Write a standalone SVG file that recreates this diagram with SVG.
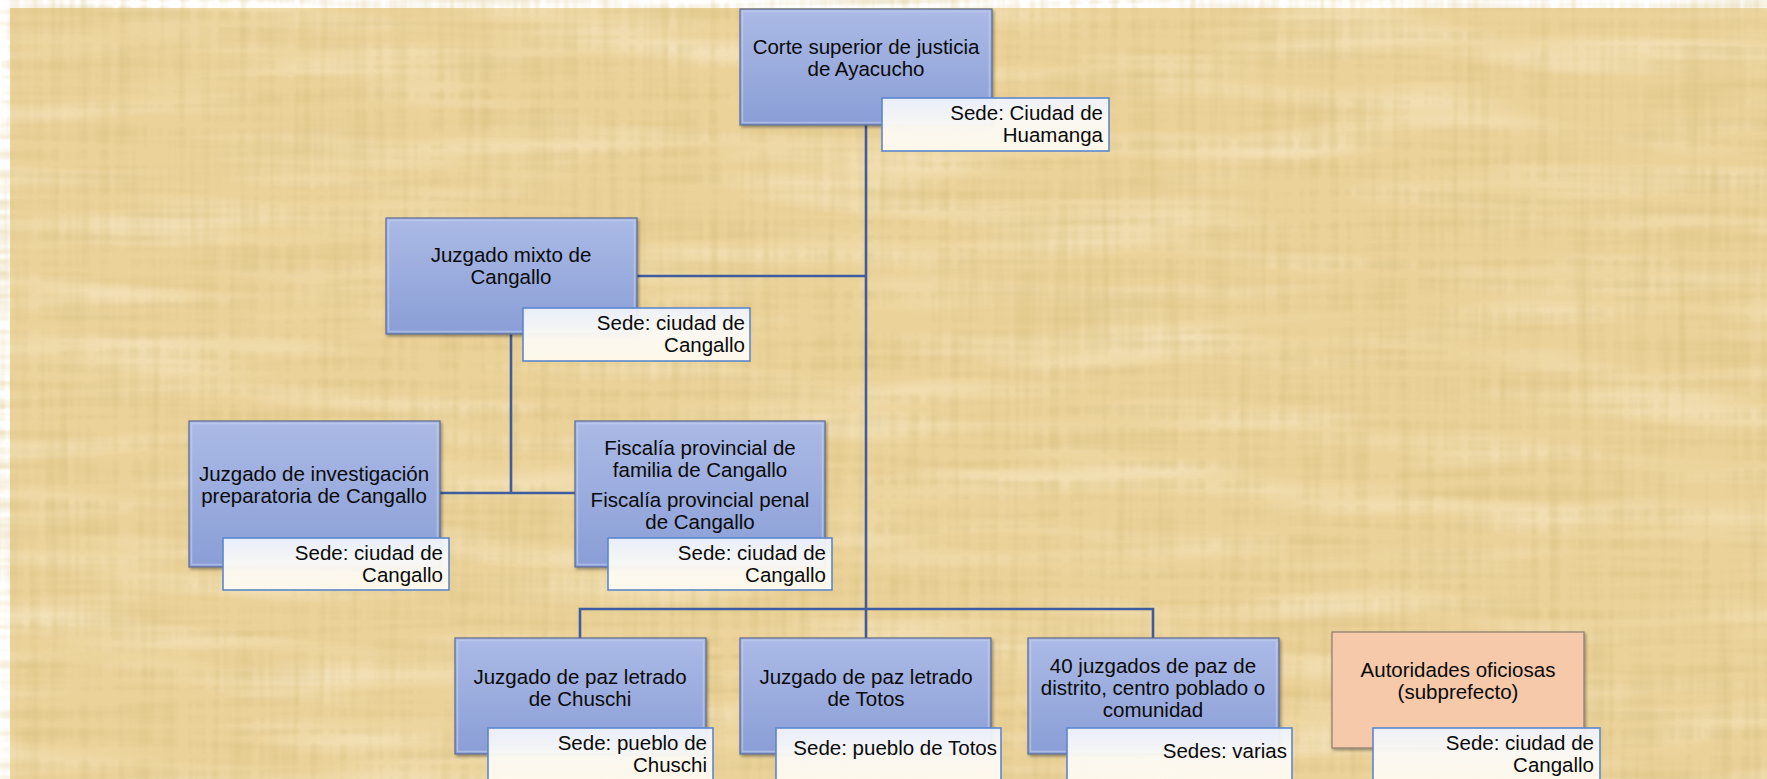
<svg xmlns="http://www.w3.org/2000/svg" width="1767" height="779" viewBox="0 0 1767 779">
<defs>
<linearGradient id="gBlue" x1="0" y1="0" x2="0" y2="1">
<stop offset="0" stop-color="#abbae6"/>
<stop offset="1" stop-color="#8a9ed6"/>
</linearGradient>
<linearGradient id="gSede" x1="0" y1="0" x2="0" y2="1">
<stop offset="0" stop-color="#eef2fb"/>
<stop offset="0.45" stop-color="#fbfaf6"/>
<stop offset="1" stop-color="#fffaee"/>
</linearGradient>
<filter id="pap" x="0" y="0" width="100%" height="100%" filterUnits="userSpaceOnUse">
<feTurbulence type="fractalNoise" baseFrequency="0.005 0.1" numOctaves="2" seed="3" result="h"/>
<feTurbulence type="fractalNoise" baseFrequency="0.1 0.005" numOctaves="2" seed="9" result="v"/>
<feComposite in="h" in2="v" operator="arithmetic" k2="0.5" k3="0.5" result="n"/>
<feColorMatrix in="n" type="matrix" values="0 0 0 0 0.68  0 0 0 0 0.53  0 0 0 0 0.22  3 0 0 0 -1.3"/>
</filter>
<filter id="pap2" x="0" y="0" width="100%" height="100%" filterUnits="userSpaceOnUse">
<feTurbulence type="fractalNoise" baseFrequency="0.004 0.03" numOctaves="2" seed="21" result="h"/>
<feColorMatrix in="h" type="matrix" values="0 0 0 0 1  0 0 0 0 0.95  0 0 0 0 0.82  -2 0 0 0 1.1"/>
</filter>
<filter id="sh" x="-5%" y="-5%" width="115%" height="120%">
<feDropShadow dx="1.5" dy="2" stdDeviation="1.5" flood-color="#000" flood-opacity="0.35"/>
</filter>
</defs>
<style>
.box{fill:url(#gBlue);stroke:#5d6b8c;stroke-width:1.2;filter:url(#sh)}
.inner{fill:none;stroke:#c4d0f0;stroke-width:1.5;opacity:0.6}
.orange{fill:#f5c9a9;stroke:#8a7c6e;stroke-width:1.2;filter:url(#sh)}
.sede{fill:url(#gSede);fill-opacity:0.95;stroke:#5a87cf;stroke-width:1.6}
.t{font-family:"Liberation Sans",Arial,sans-serif;font-size:20.5px;fill:#0a0a0a;text-anchor:middle}
.r{font-family:"Liberation Sans",Arial,sans-serif;font-size:20.5px;fill:#0a0a0a;text-anchor:end}
.conn{fill:none;stroke:#3d5da0;stroke-width:2.6}
</style>
<rect x="0" y="0" width="1767" height="779" fill="#ffffff"/>
<rect x="10" y="8" width="1757" height="771" fill="#ebd299"/>
<rect x="10" y="8" width="1757" height="771" filter="url(#pap2)" opacity="0.5"/>
<rect x="10" y="8" width="1757" height="771" filter="url(#pap)" opacity="0.55"/>

<g id="connectors">
<path class="conn" d="M866 125 V609"/>
<path class="conn" d="M637 276 H866"/>
<path class="conn" d="M511 334 V493"/>
<path class="conn" d="M440 493 H575"/>
<path class="conn" d="M580 638 V609 H1153 V638"/>
<path class="conn" d="M866 609 V638"/>
</g>

<g id="corte">
<rect class="box" x="740" y="9" width="252" height="116"/>
<rect class="inner" x="742.5" y="11.5" width="247" height="111"/>
<text class="t" x="866" y="54">Corte superior de justicia</text>
<text class="t" x="866" y="76">de Ayacucho</text>
<rect class="sede" x="882" y="98" width="227" height="53"/>
<text class="r" x="1103" y="120">Sede: Ciudad de</text>
<text class="r" x="1103" y="142">Huamanga</text>
</g>

<g id="mixto">
<rect class="box" x="386" y="218" width="251" height="116"/>
<rect class="inner" x="388.5" y="220.5" width="246" height="111"/>
<text class="t" x="511" y="262">Juzgado mixto de</text>
<text class="t" x="511" y="284">Cangallo</text>
<rect class="sede" x="523" y="308" width="227" height="53"/>
<text class="r" x="745" y="330">Sede: ciudad de</text>
<text class="r" x="745" y="352">Cangallo</text>
</g>

<g id="investigacion">
<rect class="box" x="189" y="421" width="251" height="146"/>
<rect class="inner" x="191.5" y="423.5" width="246" height="141"/>
<text class="t" x="314" y="481">Juzgado de investigación</text>
<text class="t" x="314" y="503">preparatoria de Cangallo</text>
<rect class="sede" x="223" y="538" width="226" height="52"/>
<text class="r" x="443" y="560">Sede: ciudad de</text>
<text class="r" x="443" y="582">Cangallo</text>
</g>

<g id="fiscalia">
<rect class="box" x="575" y="421" width="250" height="146"/>
<rect class="inner" x="577.5" y="423.5" width="245" height="141"/>
<text class="t" x="700" y="455">Fiscalía provincial de</text>
<text class="t" x="700" y="477">familia de Cangallo</text>
<text class="t" x="700" y="507">Fiscalía provincial penal</text>
<text class="t" x="700" y="529">de Cangallo</text>
<rect class="sede" x="608" y="538" width="224" height="52"/>
<text class="r" x="826" y="560">Sede: ciudad de</text>
<text class="r" x="826" y="582">Cangallo</text>
</g>

<g id="chuschi">
<rect class="box" x="455" y="638" width="251" height="116"/>
<rect class="inner" x="457.5" y="640.5" width="246" height="111"/>
<text class="t" x="580" y="684">Juzgado de paz letrado</text>
<text class="t" x="580" y="706">de Chuschi</text>
<rect class="sede" x="488" y="728" width="225" height="56"/>
<text class="r" x="707" y="750">Sede: pueblo de</text>
<text class="r" x="707" y="772">Chuschi</text>
</g>

<g id="totos">
<rect class="box" x="740" y="638" width="251" height="116"/>
<rect class="inner" x="742.5" y="640.5" width="246" height="111"/>
<text class="t" x="866" y="684">Juzgado de paz letrado</text>
<text class="t" x="866" y="706">de Totos</text>
<rect class="sede" x="776" y="728" width="225" height="56"/>
<text class="r" x="997" y="755">Sede: pueblo de Totos</text>
</g>

<g id="juzgados40">
<rect class="box" x="1028" y="638" width="251" height="116"/>
<rect class="inner" x="1030.5" y="640.5" width="246" height="111"/>
<text class="t" x="1153" y="673">40 juzgados de paz de</text>
<text class="t" x="1153" y="695">distrito, centro poblado o</text>
<text class="t" x="1153" y="717">comunidad</text>
<rect class="sede" x="1067" y="728" width="225" height="56"/>
<text class="r" x="1287" y="758">Sedes: varias</text>
</g>

<g id="autoridades">
<rect class="orange" x="1332" y="632" width="252" height="116"/>
<text class="t" x="1458" y="677">Autoridades oficiosas</text>
<text class="t" x="1458" y="699">(subprefecto)</text>
<rect class="sede" x="1373" y="728" width="227" height="56"/>
<text class="r" x="1594" y="750">Sede: ciudad de</text>
<text class="r" x="1594" y="772">Cangallo</text>
</g>
</svg>
